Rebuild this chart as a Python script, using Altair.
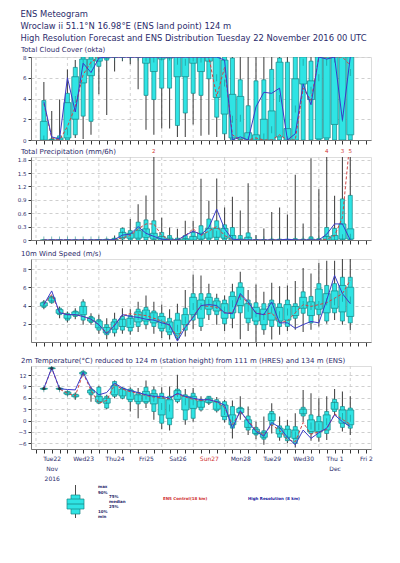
import json
import altair as alt
import pandas as pd

# ---------------- data ----------------
hours = list(range(6, 241, 6))          # forecast steps, hours after Tue 22 Nov 2016 00 UTC
day_starts = list(range(0, 253, 24))
tick_hours = list(range(0, 253, 6))
day_labels = [["Tue22", "Nov", "2016"], ["Wed23"], ["Thu24"], ["Fri25"], ["Sat26"], ["Sun27"],
              ["Mon28"], ["Tue29"], ["Wed30"], ["Thu 1", "Dec"], ["Fri 2"]]
sunday_noon = 132

# Total cloud cover (okta)
cc_min = [0, 0, 0, 0, 0.2, 0.1, 0.5, 4.4, 2.4, 6.6, 7.6, 7.3, 4.9, 1.0, 0.5, 1.1, 1.1, 0.3, 0.3, 1.5,
          0.4, 0.5, 0.3, 0, 0, 0, 0, 0, 0, 0, 0, 0, 0, 0, 0, 0, 0, 0, 0, 0]
cc_p10 = [0, 0, 0, 0, 0.5, 2.3, 1.8, 7.1, 7.7, 8, 8, 8, 8, 4.3, 3.9, 5.0, 5.0, 1.4, 2.6, 4.5,
          4.3, 5.9, 2.2, 0.6, 0, 0, 0, 0, 0, 0, 0, 0, 0, 0, 0, 0, 0, 0, 0, 0]
cc_p25 = [0, 0, 0, 0.2, 2.0, 5.5, 6.2, 7.6, 7.9, 8, 8, 8, 8, 7.4, 6.6, 7.8, 7.9, 6.1, 6.1, 7.4,
          6.6, 7.6, 4.1, 2.5, 0.2, 0.1, 0, 0, 0, 0, 0.3, 0, 0, 5.4, 3.9, 0.1, 0.2, 1.5, 0, 0.5]
cc_med = [0.1, 0, 0.1, 0.8, 3.9, 7.4, 7.3, 8, 8, 8, 8, 8, 8, 7.9, 7.8, 8, 8, 7.6, 7.5, 7.9,
          7.8, 8, 6.0, 5.5, 2.0, 2.1, 0, 0, 0.3, 1.0, 4.0, 0, 3.0, 7.5, 4.8, 6.0, 7.5, 7.8, 2.1, 6.5]
cc_p75 = [1.8, 0, 0.2, 3.6, 6.1, 7.8, 7.8, 8, 8, 8, 8, 8, 8, 8, 8, 8, 8, 8, 8, 8,
          8, 8, 8, 7.7, 4.4, 4.2, 0.7, 0.5, 2.0, 2.8, 7.5, 1.1, 5.9, 8, 5.7, 8, 8, 8, 8, 8]
cc_p90 = [3.8, 0.1, 0.4, 4.5, 7.0, 8, 8, 8, 8, 8, 8, 8, 8, 8, 8, 8, 8, 8, 8, 8,
          8, 8, 8, 8, 7.9, 5.8, 3.3, 5.7, 5.8, 6.8, 7.9, 7.5, 8, 8, 7.6, 8, 8, 8, 8, 8]
cc_max = [5.6, 2.8, 3.9, 6.8, 7.7, 8, 8, 8, 8, 8, 8, 8, 8, 8, 8, 8, 8, 8, 8, 8,
          8, 8, 8, 8, 8, 8, 8, 8, 8, 8, 8, 8, 8, 8, 8, 8, 8, 8, 8, 8]
cc_hres = [3.7, 0.3, 0.1, 6.0, 2.7, 7.4, 6.5, 7.9, 8, 8, 8, 8, 8, 8, 8, 8, 8, 8, 8, 8,
           8, 8, 8, 7.7, 0, 0.3, 0, 3.2, 4.6, 4.5, 5.0, 0, 0.6, 5.4, 3.4, 8, 7.8, 8, 1.9, 8]
cc_ctrl = [3.5, 0.2, 0, 1.3, 3.2, 6.3, 7.5, 8, 8, 8, 8, 8, 8, 8, 8, 8, 8, 8, 8, 8,
           8, 8, 4.2, 7.0, 0.5, 0, 0, 0.2, 0, 0, 0.5, 0, 0, 5.0, 3.8, 8, 8, 8, 8, 7.2]

# Total precipitation (mm/6h)
tp_min = [0] * 40
tp_p10 = [0] * 10 + [0.02] + [0] * 29
tp_p25 = [0, 0, 0, 0, 0, 0, 0, 0, 0, 0, 0.05, 0.04, 0.04, 0.06, 0.02, 0, 0, 0, 0, 0,
          0.02, 0.04, 0.06, 0.04, 0, 0, 0, 0, 0, 0, 0, 0, 0, 0, 0, 0, 0, 0, 0.02, 0.02]
tp_med = [0, 0, 0, 0, 0, 0, 0, 0, 0, 0.01, 0.12, 0.08, 0.12, 0.17, 0.06, 0.03, 0.01, 0, 0.01, 0.02,
          0.06, 0.12, 0.13, 0.10, 0.03, 0, 0.01, 0, 0, 0, 0, 0, 0, 0, 0, 0, 0.02, 0.03, 0.05, 0.06]
tp_p75 = [0, 0, 0, 0, 0, 0, 0, 0.01, 0.01, 0.02, 0.17, 0.15, 0.21, 0.25, 0.15, 0.08, 0.04, 0.01, 0.03, 0.08,
          0.15, 0.26, 0.26, 0.26, 0.10, 0.02, 0.06, 0, 0, 0, 0, 0, 0, 0, 0.02, 0, 0.08, 0.10, 0.36, 0.25]
tp_p90 = [0, 0, 0, 0, 0, 0, 0, 0.01, 0.02, 0.04, 0.26, 0.21, 0.40, 0.45, 0.43, 0.17, 0.10, 0.04, 0.10, 0.17,
          0.32, 0.47, 0.43, 0.34, 0.28, 0.10, 0.16, 0.01, 0.01, 0.02, 0.02, 0.01, 0.03, 0.02, 0.07, 0.03,
          0.28, 0.26, 0.92, 1.0]
tp_max = [0, 0, 0, 0, 0, 0, 0, 0.02, 0.03, 0.10, 0.28, 0.47, 0.80, 1.00, 1.86, 0.50, 0.28, 0.25, 0.43, 0.43,
          1.37, 0.88, 1.38, 0.73, 0.97, 0.66, 1.27, 0.11, 0.26, 0.63, 0.73, 0.57, 1.46, 0.37, 1.83, 1.14,
          1.86, 0.99, 1.86, 1.86]
tp_hres = [0, 0, 0, 0, 0, 0, 0, 0, 0, 0.01, 0.11, 0.13, 0.30, 0.15, 0.08, 0.02, 0, 0, 0.10, 0.20,
           0.12, 0.28, 0.69, 0.25, 0.02, 0, 0, 0, 0, 0, 0, 0.02, 0, 0, 0, 0, 0.13, 0.36, 0.36, 0]
tp_ctrl = [0, 0, 0, 0, 0, 0, 0, 0, 0, 0, 0.05, 0.10, 0.25, 0.36, 0.36, 0.10, 0, 0, 0.10, 0.25,
           0.10, 0.20, 0.30, 0.10, 0, 0, 0, 0, 0, 0, 0, 0, 0, 0, 0, 0, 0.02, 0.10, 0.50, 2.3]
tp_over_hours = [90, 222, 234, 240]
tp_over_counts = ["2", "4", "3", "5"]

# 10 m wind speed (m/s)
ws_min = [3.6, 4.2, 2.6, 2.15, 2.5, 1.9, 1.9, 0.9, 0.3, 0.6, 0.9, 0.8, 1.1, 1.4, 0.9, 0.45, 0.27, 0.2, 0.6, 1.4,
          1.2, 2.4, 1.9, 1.2, 1.5, 0.3, 1.2, 0, 0.8, 0.27, 0.8, 1.2, 1.35, 1.1, 1.35, 1.7, 2.0, 2.4, 1.9, 1.3]
ws_p10 = [3.8, 4.3, 3.0, 2.4, 2.8, 2.4, 2.15, 1.3, 0.8, 1.0, 1.3, 1.2, 1.7, 1.9, 1.7, 1.2, 0.8, 0.45, 1.3, 2.4,
          1.7, 3.0, 3.0, 2.0, 2.6, 3.2, 2.1, 1.9, 1.35, 1.7, 1.7, 1.7, 2.6, 3.15, 2.1, 3.0, 2.3, 3.2, 2.3, 2.1]
ws_p25 = [3.95, 4.5, 3.15, 2.6, 2.95, 3.0, 2.3, 1.55, 1.0, 1.4, 1.7, 1.6, 2.2, 2.3, 2.1, 1.5, 1.1, 0.9, 1.9, 3.0,
          2.6, 3.6, 3.4, 2.6, 3.2, 4.0, 2.6, 2.3, 1.9, 2.4, 2.3, 2.4, 2.9, 3.7, 2.9, 3.6, 3.2, 3.7, 3.3, 2.8]
ws_med = [4.1, 4.7, 3.35, 2.8, 3.15, 3.5, 2.5, 2.0, 1.3, 1.8, 2.1, 2.25, 2.8, 3.0, 2.7, 2.1, 1.7, 1.5, 2.4, 3.9,
          3.9, 4.3, 4.0, 3.5, 4.2, 5.0, 3.7, 3.1, 2.8, 3.5, 3.0, 3.3, 3.5, 4.1, 3.9, 4.1, 4.4, 4.4, 4.8, 4.6]
ws_p75 = [4.3, 4.85, 3.55, 3.0, 3.3, 3.9, 2.65, 2.3, 1.6, 2.2, 2.5, 2.6, 3.3, 3.5, 3.2, 2.8, 2.2, 2.4, 3.0, 4.9,
          4.6, 4.9, 4.5, 4.2, 5.0, 6.0, 4.2, 3.8, 3.6, 4.2, 3.8, 4.1, 3.9, 4.9, 4.4, 5.8, 5.3, 5.6, 6.2, 6.0]
ws_p90 = [4.4, 5.0, 3.7, 3.15, 3.4, 4.4, 2.8, 2.45, 1.9, 2.5, 2.8, 2.9, 3.6, 3.8, 3.4, 3.15, 2.6, 3.15, 3.7, 5.3,
          5.3, 5.3, 4.8, 4.6, 5.5, 6.5, 4.6, 4.3, 4.2, 4.6, 4.2, 4.6, 4.2, 5.5, 5.0, 6.4, 6.2, 6.4, 7.1, 7.1]
ws_max = [4.6, 5.1, 3.9, 3.35, 3.7, 4.7, 3.15, 3.0, 2.6, 3.2, 3.7, 3.6, 4.4, 5.1, 4.4, 4.1, 3.6, 4.2, 5.7, 7.4,
          7.3, 6.4, 5.3, 5.1, 6.4, 7.7, 5.7, 6.3, 5.5, 6.5, 6.1, 6.2, 6.7, 8.1, 7.5, 8.7, 8.9, 8.9, 9.1, 9.1]
ws_hres = [4.1, 5.6, 3.2, 3.0, 3.0, 2.8, 2.5, 1.9, 0.9, 1.8, 3.0, 2.8, 2.7, 2.5, 2.4, 2.1, 1.9, 0.1, 1.6, 2.7,
           4.0, 4.1, 4.0, 3.2, 3.1, 5.3, 4.4, 3.15, 3.0, 4.4, 2.1, 2.1, 1.5, 1.9, 2.25, 2.1, 4.6, 7.3, 5.3, 4.2]
ws_ctrl = [4.1, 5.2, 3.3, 3.0, 3.0, 2.8, 2.5, 1.9, 1.0, 1.9, 2.9, 3.1, 3.0, 2.9, 2.6, 2.3, 1.8, 0.6, 1.7, 2.8,
           4.0, 3.9, 3.8, 3.2, 3.2, 5.2, 4.2, 3.2, 3.0, 3.2, 2.1, 2.3, 3.2, 4.1, 3.9, 4.1, 4.3, 4.8, 5.3, 6.8]

# 2 m temperature (deg C)
t_min = [8.1, 13.5, 8.1, 6.6, 5.5, 11.8, 5.0, 4.4, 3.0, 5.9, 5.6, 2.4, 0.6, 3.3, 0.2, -2.3, -2.6, 4.6, -1.1, -0.3,
         2.4, 4.1, 2.1, -0.5, -4.7, 0.2, -3.8, -4.9, -6.4, -3.4, -5.3, -6.0, -7.1, -0.3, -5.3, -5.6, -5.1, 1.5, -2.9, -3.8]
t_p10 = [8.2, 13.6, 8.2, 6.8, 6.2, 12.1, 6.8, 4.6, 3.3, 6.4, 5.9, 5.0, 4.4, 4.6, 2.4, -0.7, -1.1, 5.0, 0.2, 0.6,
         2.8, 4.6, 2.6, 0.2, -2.0, 1.8, -2.5, -3.8, -4.9, -1.1, -4.4, -5.3, -6.0, 1.2, -3.4, -4.4, -3.4, 2.4, -1.8, -2.0]
t_p25 = [8.3, 13.7, 8.3, 7.0, 6.3, 12.3, 7.3, 5.0, 4.6, 6.8, 6.5, 5.6, 5.0, 5.0, 4.4, 1.5, 0.6, 5.6, 2.8, 3.2,
         3.5, 4.8, 3.0, 1.1, -1.1, 2.1, -1.8, -3.4, -4.4, 0.0, -3.5, -4.4, -4.7, 1.8, -2.9, -2.9, -2.5, 3.0, -0.7, -1.1]
t_med = [8.4, 13.8, 8.4, 7.2, 6.5, 12.5, 7.7, 5.6, 5.3, 8.1, 7.4, 7.2, 5.9, 6.5, 5.9, 3.7, 3.3, 7.2, 5.0, 5.0,
         4.5, 5.5, 4.1, 2.4, 0.2, 2.6, -1.1, -2.9, -3.8, 1.1, -2.5, -3.4, -3.8, 2.4, -1.4, -1.6, -0.3, 4.1, 1.1, 0.6]
t_p75 = [8.5, 13.9, 8.5, 7.5, 6.8, 12.7, 8.0, 6.4, 5.9, 9.2, 8.3, 7.9, 6.8, 7.7, 7.1, 5.9, 5.5, 7.9, 6.4, 6.4,
         5.2, 5.9, 5.0, 4.1, 1.5, 3.2, 0.2, -2.3, -3.2, 1.8, -2.0, -2.3, -2.5, 3.0, 0.2, -0.3, 1.5, 4.8, 2.8, 2.8]
t_p90 = [8.6, 14.0, 8.6, 7.7, 7.0, 13.0, 8.3, 8.8, 6.4, 10.3, 8.6, 8.3, 7.4, 8.8, 8.1, 7.2, 6.4, 8.3, 6.8, 7.2,
         5.5, 6.4, 5.5, 5.0, 3.7, 3.5, 1.2, -1.8, -2.7, 2.4, -1.4, -1.4, -1.6, 3.5, 1.5, 1.1, 2.4, 5.6, 3.7, 3.3]
t_max = [8.7, 14.2, 8.7, 7.9, 7.4, 13.2, 9.0, 9.2, 6.8, 10.6, 8.8, 8.8, 8.6, 10.6, 9.0, 8.8, 9.0, 12.1, 8.3, 8.6,
         6.4, 6.5, 6.2, 5.5, 5.3, 6.4, 3.7, -0.3, 1.1, 4.6, 1.1, 0.2, 1.9, 8.1, 7.2, 5.9, 6.4, 8.3, 7.7, 6.4]
t_hres = [8.5, 13.9, 8.4, 8.2, 8.1, 12.7, 8.6, 6.8, 7.4, 9.9, 8.6, 7.9, 7.4, 6.8, 6.4, 6.4, 5.9, 7.2, 6.4, 5.9,
          5.5, 5.5, 5.0, 4.1, -2.0, 2.6, -0.3, -2.9, -4.1, -0.5, -1.8, -4.4, -6.4, -2.5, -4.7, -3.2, -2.0, 1.5, -0.3, -1.6]
t_ctrl = [8.4, 13.8, 8.3, 7.2, 6.5, 12.5, 8.0, 4.6, 5.3, 9.5, 8.3, 7.6, 7.2, 6.6, 6.2, 6.0, 5.8, 7.0, 6.2, 5.6,
          5.3, 5.6, 4.8, 3.5, -1.0, 2.2, 0.0, -2.5, -3.8, -1.1, -2.6, -5.0, -5.6, -0.5, -3.6, -3.0, -2.3, 1.8, 0.3, -1.0]

cc_ticks = [0, 2, 4, 6, 8]
tp_ticks = [0, 0.3, 0.6, 0.9, 1.2, 1.5, 1.8]
ws_ticks = [2, 4, 6, 8]
t_ticks = [-6, -3, 0, 3, 6, 9, 12]

title_lines = ["ENS Meteogram",
               "Wroclaw ii 51.1\u00b0N 16.98\u00b0E (ENS land point) 124 m",
               "High Resolution Forecast and ENS Distribution Tuesday 22 November 2016 00 UTC"]
legend_pct = ["max", "90%", "75%", "median", "25%", "10%", "min"]
legend_ctrl = "ENS Control(18 km)"
legend_hres = "High Resolution (8 km)"

# ---------------- style ----------------
FONT = "DejaVu Sans"
NAVY = "#2b2b6b"
CYAN = "#2fe4e4"
TEAL = "#178585"
WHISK = "#4a4a4a"
HRES_C = "#3a3ac8"
CTRL_C = "#d04545"
PW, PH = 340, 83

xscale = alt.Scale(domain=[0, 252], nice=False, zero=False)


def x_axis(labels, extent):
    if labels:
        lab_expr = ("datum.value % 24 == 12 ? " + json.dumps(day_labels) +
                    "[floor(datum.value / 24)] : ''")
        return alt.Axis(values=tick_hours, grid=False, tickSize=4, tickColor="#333",
                        domainColor="#777", labelExpr=lab_expr, labelFontSize=6,
                        labelFont=FONT, labelLineHeight=10, labelPadding=2,
                        labelOverlap=False, labelFlush=False, labelBound=False,
                        labelColor={"condition": {"test": f"datum.value == {sunday_noon}",
                                                  "value": "#d03030"}, "value": NAVY},
                        title=None)
    return alt.Axis(values=tick_hours, grid=False, tickSize=4, tickColor="#333",
                    domainColor="#777", labels=False, title=None, minExtent=extent,
                    maxExtent=extent)


def panel(df, title, ydom, yticks, labels=False, xextent=4, toff=3, label_expr=None, extra=None):
    xenc = alt.X("h:Q", scale=xscale, axis=x_axis(labels, xextent))
    yscale = alt.Scale(domain=ydom, nice=False, zero=False)
    ax_kw = dict(values=yticks, grid=True, gridDash=[3, 3], gridColor="#cfcfcf",
                 tickSize=3, tickColor="#333", domainColor="#777", labelFontSize=5.5,
                 labelFont=FONT, labelColor=NAVY, labelPadding=2, labelOverlap=False,
                 labelFlush=False, minExtent=22, maxExtent=22, title=None)
    if label_expr:
        ax_kw["labelExpr"] = label_expr
    yaxis = alt.Axis(**ax_kw)

    def Y(field):
        return alt.Y(field, type="quantitative", scale=yscale, axis=yaxis)

    base = alt.Chart(df)
    days = alt.Chart(pd.DataFrame({"h": day_starts})).mark_rule(
        strokeDash=[3, 3], color="#c8c8c8", strokeWidth=0.8).encode(x=xenc)
    whisk = base.mark_rule(color=WHISK, strokeWidth=1.1, clip=True).encode(
        x=xenc, y=Y("mn"), y2="mx:Q")
    outer = base.mark_bar(size=4, fill=CYAN, stroke=TEAL, strokeWidth=0.7, clip=True).encode(
        x=xenc, y=Y("p10"), y2="p90:Q")
    inner = base.mark_bar(size=7, fill=CYAN, stroke=TEAL, strokeWidth=0.7, clip=True).encode(
        x=xenc, y=Y("p25"), y2="p75:Q")
    med = base.mark_tick(size=7, thickness=0.8, color=TEAL, clip=True).encode(
        x=xenc, y=Y("med"))
    ctrl = base.mark_line(color=CTRL_C, strokeWidth=1, strokeDash=[3, 2], clip=True).encode(
        x=xenc, y=Y("ctrl"))
    hres = base.mark_line(color=HRES_C, strokeWidth=1, clip=True).encode(
        x=xenc, y=Y("hres"))
    layers = [days, whisk, outer, inner, med, ctrl, hres]
    if extra:
        layers += extra(xenc, Y, base)
    return alt.layer(*layers).properties(
        width=PW, height=PH,
        title=alt.TitleParams(title, anchor="start", frame="group", dx=-10, offset=toff,
                              fontSize=7, font=FONT, color=NAVY, fontWeight="normal"))


def frame(mn, p10, p25, med, p75, p90, mx, hres, ctrl):
    return pd.DataFrame({"h": hours, "mn": mn, "p10": p10, "p25": p25, "med": med,
                         "p75": p75, "p90": p90, "mx": mx, "hres": hres, "ctrl": ctrl})


def precip_extra(xenc, Y, base):
    d = pd.DataFrame({"h": tp_over_hours, "n": tp_over_counts})
    return [alt.Chart(d).mark_text(color="#d03030", fontSize=5.5, font=FONT).encode(
        x=xenc, y=alt.value(-6), text="n:N")]


def temp_extra(xenc, Y, base):
    one = pd.DataFrame({"k": [0]})
    c = alt.Chart(one)
    parts = [
        base.transform_filter("datum.mx - datum.mn < 1.2").mark_point(
            shape="diamond", filled=True, size=14, color="#222222").encode(
            x=xenc, y=Y("med")),
        c.mark_rule(color=WHISK, strokeWidth=1).encode(x=alt.value(44.5), y=alt.value(119), y2=alt.value(152)),
        c.mark_rect(fill=CYAN, stroke=TEAL, strokeWidth=0.7).encode(
            x=alt.value(40), x2=alt.value(49), y=alt.value(129), y2=alt.value(148)),
        c.mark_rect(fill=CYAN, stroke=TEAL, strokeWidth=0.7).encode(
            x=alt.value(36), x2=alt.value(53), y=alt.value(133), y2=alt.value(143)),
        c.mark_rule(color=TEAL, strokeWidth=0.8).encode(
            x=alt.value(36), x2=alt.value(53), y=alt.value(138)),
    ]
    pos = [(67, 121), (67, 127), (78, 131), (78, 136), (78, 141), (67, 146), (67, 151)]
    for lab, (px, py) in zip(legend_pct, pos):
        parts.append(c.mark_text(text=lab, fontSize=4.0, font=FONT, fontWeight="bold",
                                 color=NAVY, align="left").encode(x=alt.value(px), y=alt.value(py)))
    parts.append(c.mark_text(text=legend_ctrl, fontSize=4.0, font=FONT, fontWeight="bold",
                             color="#d03030", align="left").encode(x=alt.value(132), y=alt.value(133)))
    parts.append(c.mark_text(text=legend_hres, fontSize=4.0, font=FONT, fontWeight="bold",
                             color="#2020a0", align="left").encode(x=alt.value(217), y=alt.value(133)))
    return parts


p_cc = panel(frame(cc_min, cc_p10, cc_p25, cc_med, cc_p75, cc_p90, cc_max, cc_hres, cc_ctrl),
             "Total Cloud Cover (okta)", [0, 8], cc_ticks, xextent=4, toff=2)
p_tp = panel(frame(tp_min, tp_p10, tp_p25, tp_med, tp_p75, tp_p90, tp_max, tp_hres, tp_ctrl),
             "Total Precipitation (mm/6h)", [0, 1.86], tp_ticks, xextent=6, toff=-5.5,
             label_expr="datum.value == 0 ? '0' : format(datum.value, '.1f')", extra=precip_extra)
p_ws = panel(frame(ws_min, ws_p10, ws_p25, ws_med, ws_p75, ws_p90, ws_max, ws_hres, ws_ctrl),
             "10m Wind Speed (m/s)", [0, 9.1], ws_ticks, xextent=11, toff=2)
p_t = panel(frame(t_min, t_p10, t_p25, t_med, t_p75, t_p90, t_max, t_hres, t_ctrl),
            "2m Temperature(\u00b0C) reduced to 124 m (station height) from 111 m (HRES) and 134 m (ENS)",
            [-7.5, 14.4], t_ticks, labels=True, toff=2, extra=temp_extra)

chart = alt.vconcat(p_cc, p_tp, p_ws, p_t, spacing=2).properties(
    padding={"left": 0, "top": 2, "right": 0, "bottom": 0},
    title=alt.TitleParams(title_lines, anchor="start", dx=12, fontSize=8.4, font=FONT,
                          color=NAVY, fontWeight="normal", lineHeight=12, offset=3)
).configure_view(stroke="#aaaaaa", strokeWidth=1).configure(background="white")

chart.save("out.html", embed_options={"renderer": "svg", "actions": False})
